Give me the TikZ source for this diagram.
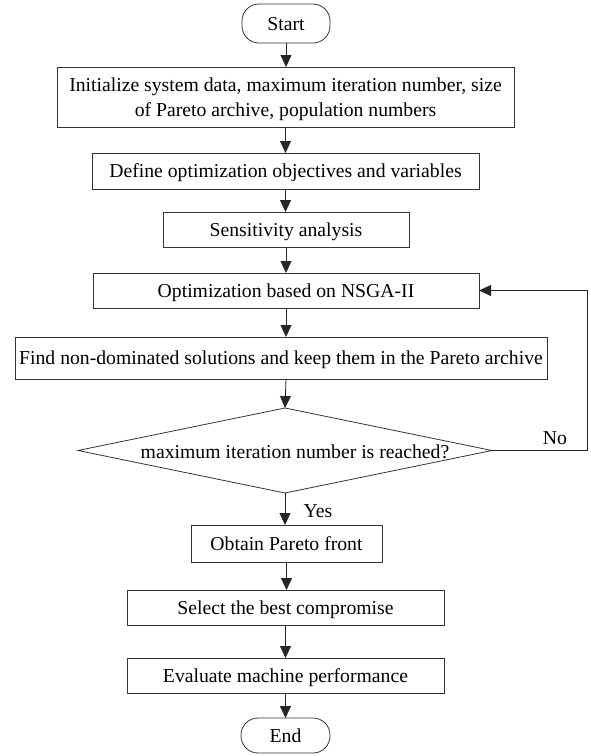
\documentclass[tikz,border=0pt]{standalone}
\usepackage{fontspec}
\setmainfont{Liberation Serif}
\usetikzlibrary{shapes.geometric,arrows.meta}
\begin{document}
\begin{tikzpicture}[x=1pt,y=-1pt,
  box/.style={draw=black!80,line width=0.8pt,rectangle,inner sep=0pt,outer sep=0pt,align=center,text depth=0pt,font=\fontsize{19.7}{25}\selectfont},
  term/.style={box,rounded corners=17pt},
  arr/.style={draw=black!85,line width=0.8pt,-{Triangle[width=11pt,length=12pt]}},
  lbl/.style={inner sep=0pt,font=\fontsize{19.7}{25}\selectfont}]
\useasboundingbox (0,0) rectangle (590,756);
\node[term,minimum width=88pt,minimum height=39pt] (start) at (286,23.5) {Start};
\node[box,minimum width=457pt,minimum height=60pt] (b1) at (285.5,97) {Initialize system data, maximum iteration number, size\\of Pareto archive, population numbers};
\node[box,minimum width=387pt,minimum height=36pt] (b2) at (285.5,171) {Define optimization objectives and variables};
\node[box,minimum width=246pt,minimum height=35pt] (b3) at (286,229.5) {Sensitivity analysis};
\node[box,minimum width=386pt,minimum height=35pt] (b4) at (286,290.5) {Optimization based on NSGA-II};
\node[box,minimum width=532pt,minimum height=42pt] (b5) at (281,358) {Find non-dominated solutions and keep them in the Pareto archive};
\node[diamond,draw=black!80,line width=0.8pt,inner sep=0pt,outer sep=0pt,minimum width=414pt,minimum height=85pt] (dec) at (285,450.5) {};
\node[lbl] (dect) at (295,452) {maximum iteration number is reached?};
\node[box,minimum width=191pt,minimum height=37pt] (b6) at (286.5,543.5) {Obtain Pareto front};
\node[box,minimum width=317pt,minimum height=35pt] (b7) at (285.5,607.5) {Select the best compromise};
\node[box,minimum width=317pt,minimum height=35pt] (b8) at (285.5,675.5) {Evaluate machine performance};
\node[term,minimum width=89pt,minimum height=35pt] (end) at (285.5,735.5) {End};
\coordinate (fb) at (587,290.5);
\node[lbl] (no) at (555,438) {No};
\node[lbl] (yes) at (318,511) {Yes};
\draw[arr] (start) -- (start |- b1.north);
\draw[arr] (b1) -- (b1 |- b2.north);
\draw[arr] (b2) -- (b2 |- b3.north);
\draw[arr] (b3) -- (b3 |- b4.north);
\draw[arr] (b4.south) -- (b4.south |- b5.north);
\draw[arr] (b4.south |- b5.south) -- (dec.north);
\draw[arr] (dec.south) -- (dec.south |- b6.north);
\draw[arr] (b6) -- (b6 |- b7.north);
\draw[arr] (b7) -- (b7 |- b8.north);
\draw[arr] (b8) -- (b8 |- end.north);
\draw[arr] (dec.east) -- (dec.east -| fb) -- (fb) -- (b4.east);
\end{tikzpicture}
\end{document}
